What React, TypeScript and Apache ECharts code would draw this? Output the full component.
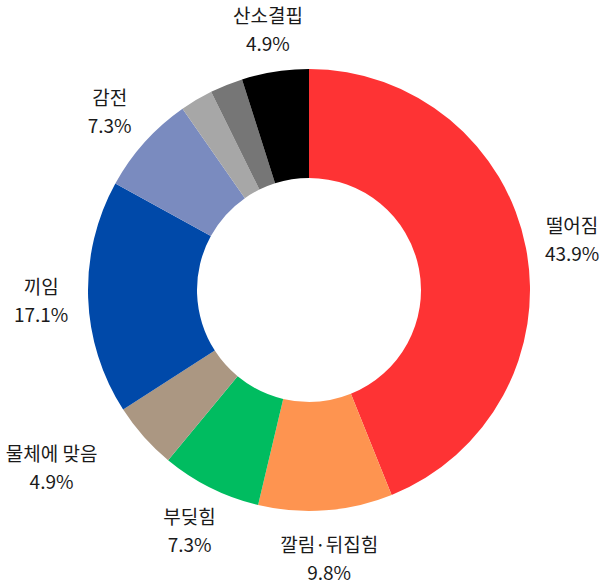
import { useEffect, useRef } from "react";
import * as echarts from "echarts";

// slices run clockwise from 12 o'clock
const categories = ["떨어짐", "깔림·뒤집힘", "부딪힘", "물체에 맞음", "끼임", "감전", "기타1", "기타2", "산소결핍"];
const shares = [43.9, 9.8, 7.3, 4.9, 17.1, 7.3, 2.4, 2.4, 4.9];
const labelled = [true, true, true, true, true, true, false, false, true];
const colors = ["#fe3334", "#fe9450", "#00bc60", "#ab9782", "#0049a9", "#7a8bbf", "#a7a7a7", "#767676", "#000000"];

const CX = 309;
const CY = 290;
const LABEL_R = 268;
// small hand nudges where the original moved a label
const nudge: Record<string, [number, number]> = { "물체에 맞음": [-57, -1], "산소결핍": [0, 3] };

export default function App() {
  const ref = useRef<HTMLDivElement | null>(null);

  useEffect(() => {
    document.body.style.margin = "0";
    if (!ref.current) return;
    const chart = echarts.init(ref.current, undefined, { renderer: "svg" });

    const total = shares.reduce((a, b) => a + b, 0);
    const mids: number[] = [];
    let acc = 0;
    shares.forEach((v) => {
      mids.push(((acc + v / 2) / total) * Math.PI * 2);
      acc += v;
    });

    chart.setOption({
      animation: false,
      series: [
        {
          type: "pie",
          center: [CX, CY],
          radius: [112, 221],
          startAngle: 90,
          clockwise: true,
          avoidLabelOverlap: false,
          label: {
            show: true,
            position: "outside",
            formatter: (p: any) => `${p.name}\n${p.value}%`,
            fontFamily: "Noto Sans CJK KR",
            fontSize: 19,
            lineHeight: 28,
            color: "#1a1a1a",
            align: "center",
          },
          labelLine: { show: false },
          labelLayout: (p: any) => {
            const a = mids[p.dataIndex];
            const n = nudge[categories[p.dataIndex]] ?? [0, 0];
            return {
              x: CX + Math.sin(a) * LABEL_R + n[0],
              y: CY - Math.cos(a) * LABEL_R + n[1],
              align: "center",
              verticalAlign: "middle",
            };
          },
          data: categories.map((name, i) => ({
            name,
            value: shares[i],
            itemStyle: { color: colors[i] },
            label: { show: labelled[i] },
          })),
        },
      ],
    });

    return () => chart.dispose();
  }, []);

  return <div ref={ref} style={{ width: 600, height: 585, background: "#fff" }} />;
}
